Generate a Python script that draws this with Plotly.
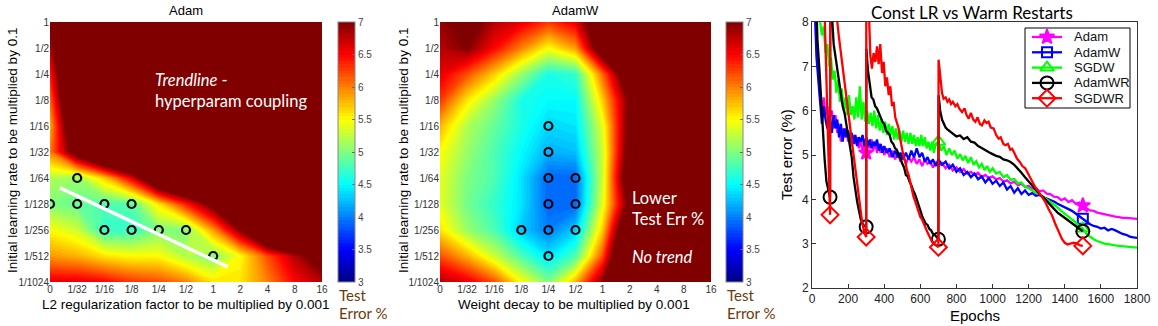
import numpy as np
import plotly.graph_objects as go

W, H = 1158, 326

# ---------------- data: hyperparameter grids ----------------
wd_labels = ["0", "1/32", "1/16", "1/8", "1/4", "1/2", "1", "2", "4", "8", "16"]
lr_labels_top_down = ["1", "1/2", "1/4", "1/8", "1/16", "1/32", "1/64", "1/128", "1/256", "1/512", "1/1024"]

# rows follow lr_labels_top_down, columns follow wd_labels (test error %, saturated above 7)
adam_err = [
    [7.3, 8.5, 9.0, 9.0, 9.0, 9.0, 9.0, 9.0, 9.0, 9.0, 9.0],
    [6.8, 8.5, 9.0, 9.0, 9.0, 9.0, 9.0, 9.0, 9.0, 9.0, 9.0],
    [6.4, 8.5, 9.0, 9.0, 9.0, 9.0, 9.0, 9.0, 9.0, 9.0, 9.0],
    [6.1, 8.3, 9.0, 9.0, 9.0, 9.0, 9.0, 9.0, 9.0, 9.0, 9.0],
    [5.8, 8.0, 9.0, 9.0, 9.0, 9.0, 9.0, 9.0, 9.0, 9.0, 9.0],
    [6.0, 7.4, 8.5, 9.0, 9.0, 9.0, 9.0, 9.0, 9.0, 9.0, 9.0],
    [5.2, 5.1, 5.7, 6.6, 8.0, 8.5, 9.0, 9.0, 9.0, 9.0, 9.0],
    [5.0, 4.9, 4.8, 4.85, 5.6, 6.4, 7.2, 8.5, 9.0, 9.0, 9.0],
    [5.5, 5.3, 4.7, 4.7, 5.0, 5.0, 5.9, 7.0, 8.5, 9.0, 9.0],
    [5.9, 5.8, 5.6, 5.5, 5.5, 5.2, 5.0, 5.5, 6.2, 6.8, 7.3],
    [6.6, 6.6, 6.5, 6.3, 6.2, 6.0, 5.6, 5.6, 6.0, 6.5, 6.8],
]
adamw_err = [
    [6.9, 7.2, 6.8, 6.6, 6.3, 6.6, 7.6, 8.5, 9.0, 9.0, 9.0],
    [6.8, 7.0, 6.5, 6.0, 5.5, 5.9, 7.5, 8.5, 9.0, 9.0, 9.0],
    [6.6, 6.2, 5.7, 5.1, 4.6, 4.7, 6.1, 7.6, 9.0, 9.0, 9.0],
    [6.3, 5.6, 5.1, 4.6, 4.5, 4.5, 5.7, 7.1, 9.0, 9.0, 9.0],
    [5.8, 5.2, 4.9, 4.6, 4.35, 4.4, 5.4, 7.2, 9.0, 9.0, 9.0],
    [5.5, 5.1, 4.8, 4.5, 4.2, 4.25, 5.3, 7.3, 9.0, 9.0, 9.0],
    [5.4, 5.0, 4.8, 4.4, 3.9, 3.9, 5.3, 7.6, 9.0, 9.0, 9.0],
    [5.4, 4.95, 4.7, 4.4, 3.9, 3.9, 5.4, 7.2, 9.0, 9.0, 9.0],
    [5.6, 5.1, 4.8, 4.3, 4.0, 4.3, 5.7, 8.0, 9.0, 9.0, 9.0],
    [6.2, 5.8, 5.3, 4.8, 4.4, 4.8, 6.2, 8.5, 9.0, 9.0, 9.0],
    [6.8, 6.6, 6.2, 5.5, 5.0, 5.8, 7.0, 8.5, 9.0, 9.0, 9.0],
]
adam_best_wd = ["0", "1/32", "1/32", "1/16", "1/8", "1/16", "1/8", "1/4", "1/2", "1"]
adam_best_lr = ["1/128", "1/64", "1/128", "1/128", "1/128", "1/256", "1/256", "1/256", "1/256", "1/512"]
adamw_best_wd = ["1/4", "1/4", "1/4", "1/2", "1/4", "1/2", "1/8", "1/4", "1/2", "1/4"]
adamw_best_lr = ["1/16", "1/32", "1/64", "1/64", "1/128", "1/128", "1/256", "1/256", "1/256", "1/512"]
# trendline endpoints (grid units: wd index, lr index counted from 1/1024)
trend_wd = [0.37, 6.54]
trend_lr = [3.62, 0.58]

cbar_ticks = [3, 3.5, 4, 4.5, 5, 5.5, 6, 6.5, 7]

# ---------------- data: learning curves ----------------
adam_ep = [0, 15, 25, 35, 45, 55, 65, 75, 85, 95, 100, 110, 120, 130, 140, 150, 160, 170, 180, 190,
           200, 210, 220, 230, 240, 250, 260, 270, 280, 290, 300, 310, 320, 330, 340, 350, 360, 370, 380, 390,
           400, 415, 430, 445, 460, 475, 490, 505, 520, 535, 550, 565, 580, 595, 610, 625, 640, 655, 670, 685,
           700, 720, 740, 760, 780, 800, 820, 840, 860, 880, 900, 920, 940, 960, 980, 1000, 1020, 1040, 1060,
           1080, 1100, 1120, 1140, 1160, 1180, 1200, 1220, 1240, 1260, 1280, 1300, 1320, 1340, 1360, 1380,
           1400, 1420, 1440, 1460, 1480, 1500, 1520, 1540, 1560, 1580, 1600, 1620, 1640, 1660, 1680, 1700,
           1720, 1740, 1760, 1780, 1800]
adam_err_curve = [12.0, 8.6, 7.4, 6.8, 6.3, 6.0, 6.3, 5.9, 6.1, 5.7, 5.9, 6.0, 5.6, 5.9, 5.5, 5.7, 5.3, 5.6, 5.4, 5.6,
                  5.3, 5.5, 5.2, 5.45, 5.25, 5.4, 5.15, 5.35, 5.1, 5.2, 5.05, 5.3, 5.15, 5.35, 5.1, 5.3, 5.05, 5.25, 5.05, 5.2,
                  5.0, 5.15, 4.95, 5.1, 4.9, 5.05, 4.85, 5.0, 4.8, 4.95, 4.85, 4.95, 4.8, 4.9, 4.75, 4.9, 4.8, 4.85, 4.72, 4.82,
                  4.75, 4.82, 4.7, 4.78, 4.65, 4.72, 4.62, 4.68, 4.58, 4.62, 4.55, 4.6, 4.5, 4.55, 4.48, 4.52, 4.45, 4.48, 4.4,
                  4.43, 4.36, 4.4, 4.32, 4.35, 4.28, 4.3, 4.24, 4.25, 4.18, 4.2, 4.13, 4.12, 4.06, 4.05, 3.98,
                  4.02, 3.94, 3.98, 3.9, 3.93, 3.86, 3.8, 3.75, 3.74, 3.7, 3.68, 3.66, 3.65, 3.62, 3.61, 3.6,
                  3.58, 3.58, 3.57, 3.56, 3.56]

adamw_ep = adam_ep
adamw_err_curve = [12.0, 8.4, 7.2, 6.6, 6.2, 5.7, 6.1, 5.8, 5.6, 5.9, 5.8, 5.5, 5.9, 5.6, 5.8, 5.4, 5.7, 5.3, 5.6, 5.4,
                   5.55, 5.3, 5.5, 5.25, 5.45, 5.2, 5.4, 5.3, 5.45, 5.2, 5.4, 5.2, 5.35, 5.15, 5.3, 5.2, 5.35, 5.1, 5.25, 5.05,
                   5.2, 5.05, 5.15, 4.95, 5.1, 4.95, 5.05, 4.9, 5.05, 4.9, 5.1, 4.95, 5.15, 4.95, 5.05, 4.85, 4.95, 4.8, 4.9, 4.75,
                   4.9, 4.78, 4.85, 4.7, 4.78, 4.62, 4.7, 4.55, 4.62, 4.5, 4.58, 4.45, 4.52, 4.38, 4.48, 4.35, 4.42, 4.3, 4.38,
                   4.22, 4.3, 4.15, 4.25, 4.12, 4.2, 4.1, 4.14, 4.08, 4.1, 4.05, 4.02, 3.98, 3.95, 3.9, 3.86,
                   3.82, 3.78, 3.74, 3.68, 3.62, 3.56, 3.48, 3.44, 3.4, 3.38, 3.34, 3.36, 3.3, 3.33, 3.3, 3.26,
                   3.22, 3.2, 3.16, 3.14, 3.13]

sgdw_ep = [0, 30, 45, 55, 65, 75, 85, 95, 105, 115, 125, 135, 145, 155, 165, 175, 185, 195, 205, 215, 225,
           235, 245, 255, 265, 275, 285, 295, 305, 315, 325, 335, 345, 355, 365, 375, 385, 395, 405, 415, 425,
           435, 445, 455, 465, 475, 485, 495, 505, 515, 525, 535, 545, 555, 565, 575, 585, 595, 605, 615, 625,
           635, 645, 655, 665, 675, 685, 700, 715, 730, 745, 760, 775, 790, 805, 820, 835, 850, 865, 880, 895,
           910, 925, 940, 955, 970, 985, 1000, 1020, 1040, 1060, 1080, 1100, 1120, 1140, 1160, 1180, 1200,
           1220, 1240, 1260, 1280, 1300, 1320, 1340, 1360, 1380, 1400, 1420, 1440, 1460, 1480, 1500, 1520,
           1540, 1560, 1580, 1600, 1620, 1640, 1660, 1680, 1700, 1720, 1740, 1760, 1780, 1800]
sgdw_err_curve = [12.0, 9.0, 8.0, 7.7, 7.9, 7.3, 7.5, 7.0, 7.2, 6.7, 6.9, 6.4, 6.7, 6.2, 6.5, 6.0, 6.3, 5.9, 6.35, 5.9, 6.1,
                  5.8, 6.3, 5.85, 6.55, 5.8, 6.2, 5.75, 6.0, 5.7, 5.95, 5.65, 6.0, 5.6, 5.9, 5.55, 5.8, 5.5, 5.75, 5.45, 5.7,
                  5.45, 5.65, 5.35, 5.6, 5.35, 5.55, 5.3, 5.55, 5.3, 5.5, 5.25, 5.5, 5.25, 5.45, 5.2, 5.4, 5.2, 5.45, 5.2, 5.4,
                  5.15, 5.3, 5.1, 5.3, 5.05, 5.25, 5.3, 5.1, 5.2, 5.0, 5.15, 5.0, 5.1, 4.92, 5.02, 4.88, 4.98, 4.82, 4.95, 4.78,
                  4.86, 4.72, 4.8, 4.66, 4.75, 4.62, 4.7, 4.58, 4.62, 4.5, 4.55, 4.44, 4.46, 4.36, 4.38, 4.28, 4.25,
                  4.2, 4.15, 4.12, 4.06, 4.02, 3.95, 3.88, 3.82, 3.74, 3.68, 3.62, 3.55, 3.48, 3.4, 3.34, 3.22,
                  3.15, 3.1, 3.06, 3.03, 3.0, 2.99, 2.97, 2.96, 2.95, 2.94, 2.93, 2.93, 2.92, 2.91]

adamwr_ep = [0, 20, 30, 40, 50, 60, 70, 80, 90, 100, 101, 110, 120, 130, 140, 150, 160, 170, 180, 190, 200,
             210, 220, 230, 240, 250, 260, 270, 280, 290, 300, 301, 310, 320, 330, 340, 350, 360, 370, 380, 390,
             400, 410, 420, 430, 440, 450, 460, 470, 480, 490, 500, 510, 520, 530, 540, 550, 560, 570, 580, 590,
             600, 610, 620, 630, 640, 650, 660, 670, 680, 690, 700, 701, 710, 720, 730, 740, 750, 760, 780, 800,
             820, 840, 860, 880, 900, 920, 940, 960, 980, 1000, 1020, 1040, 1060, 1080, 1100, 1120, 1140, 1160,
             1180, 1200, 1220, 1240, 1260, 1280, 1300, 1320, 1340, 1360, 1380, 1400, 1420, 1440, 1460, 1480, 1500]
adamwr_err_curve = [12.0, 8.6, 7.6, 7.0, 6.2, 5.6, 4.9, 4.4, 4.2, 4.05, 9.5, 8.2, 7.5, 7.2, 6.9, 6.6, 6.4, 6.1, 5.95, 5.7, 5.45,
                    5.3, 4.95, 4.5, 4.2, 3.95, 3.75, 3.55, 3.45, 3.4, 3.38, 7.4, 6.9, 6.55, 6.3, 6.25, 6.1, 6.05, 5.95, 5.85, 5.75,
                    5.7, 5.55, 5.5, 5.45, 5.3, 5.25, 5.15, 5.12, 5.0, 4.92, 4.8, 4.72, 4.55, 4.52, 4.4, 4.32, 4.2, 4.12, 4.0, 3.85,
                    3.75, 3.62, 3.55, 3.45, 3.42, 3.33, 3.3, 3.22, 3.2, 3.14, 3.1, 6.35, 6.0, 5.8, 5.72, 5.62, 5.58, 5.55, 5.5, 5.42,
                    5.44, 5.36, 5.4, 5.3, 5.28, 5.2, 5.16, 5.1, 5.06, 5.02, 4.98, 4.96, 4.9, 4.88, 4.84, 4.78, 4.7, 4.6,
                    4.5, 4.4, 4.3, 4.2, 4.12, 4.05, 3.96, 3.86, 3.78, 3.7, 3.64, 3.58, 3.52, 3.46, 3.4, 3.34, 3.28]

sgdwr_ep = [0, 40, 70, 80, 90, 100, 101, 130, 148, 166, 185, 203, 221, 240, 258, 277, 290, 300, 301, 314, 323,
            332, 341, 351, 360, 369, 378, 388, 397, 406, 415, 425, 434, 443, 452, 461, 470, 480, 489, 498, 508,
            517, 526, 535, 545, 554, 563, 572, 582, 591, 600, 609, 618, 628, 637, 646, 655, 665, 675, 687, 700,
            701, 711, 720, 729, 740, 750, 760, 770, 780, 794, 805, 815, 831, 845, 856, 868, 880, 893, 905, 917,
            930, 941, 955, 966, 978, 990, 1006, 1020, 1034, 1045, 1060, 1071, 1085, 1098, 1108, 1120, 1135, 1150,
            1165, 1181, 1200, 1218, 1236, 1255, 1273, 1292, 1310, 1329, 1347, 1366, 1385, 1400, 1415, 1430, 1450,
            1468, 1485, 1500]
sgdwr_err_curve = [12.0, 10.0, 8.2, 6.5, 4.9, 3.65, 10.0, 8.4, 7.7, 7.15, 6.55, 5.9, 5.3, 4.7, 4.1, 3.5, 3.25, 3.15, 10.0, 8.1, 7.25,
                   6.95, 7.3, 7.1, 7.45, 7.05, 7.5, 6.85, 7.1, 6.55, 6.75, 6.35, 6.55, 6.1, 6.2, 5.85, 5.75, 5.6, 5.35, 5.15, 4.95,
                   4.85, 4.65, 4.55, 4.35, 4.17, 4.05, 3.95, 3.82, 3.7, 3.6, 3.55, 3.45, 3.34, 3.28, 3.2, 3.12, 3.04, 3.0, 2.96, 2.92,
                   7.15, 6.8, 6.4, 6.27, 6.3, 6.2, 6.25, 6.15, 6.2, 6.1, 6.15, 6.05, 5.97, 6.05, 5.9, 5.82, 5.95, 5.8, 5.75, 5.85,
                   5.7, 5.67, 5.78, 5.72, 5.75, 5.62, 5.6, 5.45, 5.37, 5.4, 5.25, 5.22, 5.25, 5.12, 5.14, 5.05, 4.92, 4.85,
                   4.75, 4.7, 4.55, 4.4, 4.28, 4.17, 4.05, 3.94, 3.78, 3.64, 3.45, 3.26, 3.1, 3.02, 2.98, 3.0, 3.02,
                   3.0, 2.96, 2.95]

series_names = ["Adam", "AdamW", "SGDW", "AdamWR", "SGDWR"]
series_ep = [adam_ep, adamw_ep, sgdw_ep, adamwr_ep, sgdwr_ep]
series_err = [adam_err_curve, adamw_err_curve, sgdw_err_curve, adamwr_err_curve, sgdwr_err_curve]
series_marker_epochs = [[300, 1500], [1500], [700, 1500], [100, 300, 700, 1500], [100, 300, 700, 1500]]
x_ticks = list(range(0, 1801, 200))
y_ticks = [2, 3, 4, 5, 6, 7, 8]

# ---------------- styles ----------------
series_colors = ["#ff00ff", "#0000ff", "#00ff00", "#000000", "#ff0000"]
series_symbols = ["star", "square-open", "triangle-up-open", "circle-open", "diamond-open"]
series_msize = [11, 10, 12, 13, 13]
jet = [[0.0, "rgb(0,0,131)"], [0.125, "rgb(0,0,255)"], [0.375, "rgb(0,255,255)"],
       [0.625, "rgb(255,255,0)"], [0.875, "rgb(255,0,0)"], [1.0, "rgb(128,0,0)"]]
ARIAL = "Liberation Sans, Arial, sans-serif"
CAL = "Lato, Open Sans, sans-serif"


def fx(px):
    return px / W


def fy(py):
    return 1 - py / H


fig = go.Figure()

n = len(wd_labels)
grid = list(range(n))
lr_bottom_up = lr_labels_top_down[::-1]

panels = [
    dict(z=adam_err, bx=adam_best_wd, by=adam_best_lr, xa="x", ya="y", cbx=338),
    dict(z=adamw_err, bx=adamw_best_wd, by=adamw_best_lr, xa="x2", ya="y2", cbx=726),
]
for p in panels:
    z = np.array(p["z"])[::-1]
    fig.add_trace(go.Contour(
        x=grid, y=grid, z=z, xaxis=p["xa"], yaxis=p["ya"],
        colorscale=jet, autocontour=False, zmin=3, zmax=7,
        contours=dict(start=3, end=7, size=0.05, coloring="fill", showlines=False),
        line=dict(width=0, smoothing=0),
        colorbar=dict(x=fx(p["cbx"]), xanchor="left", y=fy(152), yanchor="middle",
                      len=260, lenmode="pixels", thickness=17, thicknessmode="pixels",
                      tickvals=cbar_ticks, ticktext=[f"{t:g}" for t in cbar_ticks],
                      tickfont=dict(family=ARIAL, size=10, color="#444"),
                      outlinewidth=1, outlinecolor="#888", xpad=0, ypad=0,
                      ticks="inside", ticklen=3, tickcolor="#666"),
        showlegend=False, hoverinfo="skip",
    ))
    fig.add_trace(go.Scatter(
        x=[wd_labels.index(v) for v in p["bx"]],
        y=[lr_bottom_up.index(v) for v in p["by"]],
        mode="markers", xaxis=p["xa"], yaxis=p["ya"],
        marker=dict(symbol="circle-open", size=8, color="black", line=dict(width=2.2)),
        showlegend=False, hoverinfo="skip",
    ))

fig.add_trace(go.Scatter(x=trend_wd, y=trend_lr, mode="lines", xaxis="x", yaxis="y",
                         line=dict(color="white", width=3.5), showlegend=False, hoverinfo="skip"))

for name, ep, err, mk, col, sym, ms in zip(series_names, series_ep, series_err, series_marker_epochs,
                                          series_colors, series_symbols, series_msize):
    ep_a = np.array(ep)
    err_a = np.array(err)
    fig.add_trace(go.Scatter(x=ep_a, y=err_a, mode="lines", xaxis="x3", yaxis="y3",
                             line=dict(color=col, width=2.3), showlegend=False, hoverinfo="skip"))
    mask = np.isin(ep_a, mk)
    fig.add_trace(go.Scatter(x=ep_a[mask], y=err_a[mask], mode="markers", xaxis="x3", yaxis="y3",
                             marker=dict(symbol=sym, size=ms, color=col, line=dict(width=2, color=col)),
                             showlegend=False, hoverinfo="skip"))

# ---- legend drawn in its own pixel-unit overlay axes ----
LEG_L, LEG_R, LEG_T, LEG_B = 1025, 1130, 28, 108
leg_row0, leg_step = 37, 15.3
leg_line = (1032, 1062)
leg_text_x = 1072
fig.add_trace(go.Scatter(x=[LEG_L, LEG_R, LEG_R, LEG_L, LEG_L], y=[LEG_T, LEG_T, LEG_B, LEG_B, LEG_T],
                         mode="lines", fill="toself", fillcolor="white", line=dict(color="black", width=1),
                         xaxis="x4", yaxis="y4", showlegend=False, hoverinfo="skip"))
ann = []
for i, (name, col, sym, ms) in enumerate(zip(series_names, series_colors, series_symbols, series_msize)):
    ry = leg_row0 + i * leg_step
    fig.add_trace(go.Scatter(x=list(leg_line), y=[ry, ry], mode="lines", xaxis="x4", yaxis="y4",
                             line=dict(color=col, width=2.3), showlegend=False, hoverinfo="skip"))
    fig.add_trace(go.Scatter(x=[sum(leg_line) / 2], y=[ry], mode="markers", xaxis="x4", yaxis="y4",
                             marker=dict(symbol=sym, size=ms, color=col, line=dict(width=2, color=col)),
                             showlegend=False, hoverinfo="skip"))
    ann.append(dict(text=name, x=leg_text_x, y=ry, xref="x4", yref="y4", showarrow=False,
                    xanchor="left", yanchor="middle", font=dict(family=ARIAL, size=13, color="#111")))

hm_axis = dict(range=[0, 10], showgrid=False, zeroline=False, ticks="", showline=False,
               tickfont=dict(family=ARIAL, size=10, color="#333"))
lc_axis = dict(showgrid=False, zeroline=False, ticks="inside", ticklen=4, tickcolor="#333",
               showline=True, mirror=True, linecolor="#333", linewidth=1,
               tickfont=dict(family=ARIAL, size=12, color="#222"))
fig.update_layout(
    width=W, height=H, margin=dict(l=0, r=0, t=0, b=0, autoexpand=False),
    paper_bgcolor="white", plot_bgcolor="rgba(0,0,0,0)",
    xaxis=dict(domain=[fx(50), fx(322)], anchor="y", tickvals=grid, ticktext=wd_labels, **hm_axis),
    yaxis=dict(domain=[fy(282), fy(22)], anchor="x", tickvals=grid, ticktext=lr_bottom_up, **hm_axis),
    xaxis2=dict(domain=[fx(440), fx(711)], anchor="y2", tickvals=grid, ticktext=wd_labels, **hm_axis),
    yaxis2=dict(domain=[fy(282), fy(22)], anchor="x2", tickvals=grid, ticktext=lr_bottom_up, **hm_axis),
    xaxis3=dict(domain=[fx(812), fx(1137)], anchor="y3", range=[0, 1800], tickvals=x_ticks, **lc_axis),
    yaxis3=dict(domain=[fy(288), fy(22)], anchor="x3", range=[2, 8], tickvals=y_ticks, **lc_axis),
    xaxis4=dict(domain=[fx(LEG_L - 1), fx(LEG_R + 1)], anchor="y4", range=[LEG_L - 1, LEG_R + 1], visible=False),
    yaxis4=dict(domain=[fy(LEG_B + 1), fy(LEG_T - 1)], anchor="x4", range=[LEG_B + 1, LEG_T - 1], visible=False),
    showlegend=False,
)


def add_text(text, px, py, size, family=ARIAL, color="black", xanchor="center", yanchor="middle", angle=0):
    ann.append(dict(text=text, x=fx(px), y=fy(py), xref="paper", yref="paper", showarrow=False,
                    xanchor=xanchor, yanchor=yanchor, textangle=angle,
                    font=dict(family=family, size=size, color=color)))


add_text("Adam", 186, 10, 13)
add_text("AdamW", 575, 10, 13)
add_text("Const LR vs Warm Restarts", 972, 12, 17, family=CAL)
add_text("Initial learning rate to be multiplied by 0.1", 12, 151, 13.5, angle=-90)
add_text("Initial learning rate to be multiplied by 0.1", 403, 151, 13.5, angle=-90)
add_text("L2 regularization factor to be multiplied by 0.001", 185, 304, 13.5)
add_text("Weight decay to be multiplied by 0.001", 574, 304, 13.5)
add_text("Epochs", 975, 315, 15)
add_text("Test error (%)", 787, 155, 15, angle=-90)
for cx in (337, 725):
    add_text("Test", cx, 295, 15, family=CAL, color="#6b3a0a", xanchor="left")
    add_text("Error %", cx, 313, 15, family=CAL, color="#6b3a0a", xanchor="left")
WHITE_FS = 16.5
add_text("<i>Trendline</i> -", 153, 80, WHITE_FS, family=CAL, color="white", xanchor="left")
add_text("hyperparam coupling", 153, 100.5, WHITE_FS, family=CAL, color="white", xanchor="left")
add_text("Lower", 630, 198, WHITE_FS, family=CAL, color="white", xanchor="left")
add_text("Test Err %", 630, 219, WHITE_FS, family=CAL, color="white", xanchor="left")
add_text("<i>No trend</i>", 630, 257, WHITE_FS, family=CAL, color="white", xanchor="left")
fig.update_layout(annotations=ann)

fig.write_html("out.html", config={"responsive": False, "displayModeBar": False},
               post_script="document.body.style.margin='0';document.body.style.overflow='hidden';"
                           "document.documentElement.style.overflow='hidden';")
